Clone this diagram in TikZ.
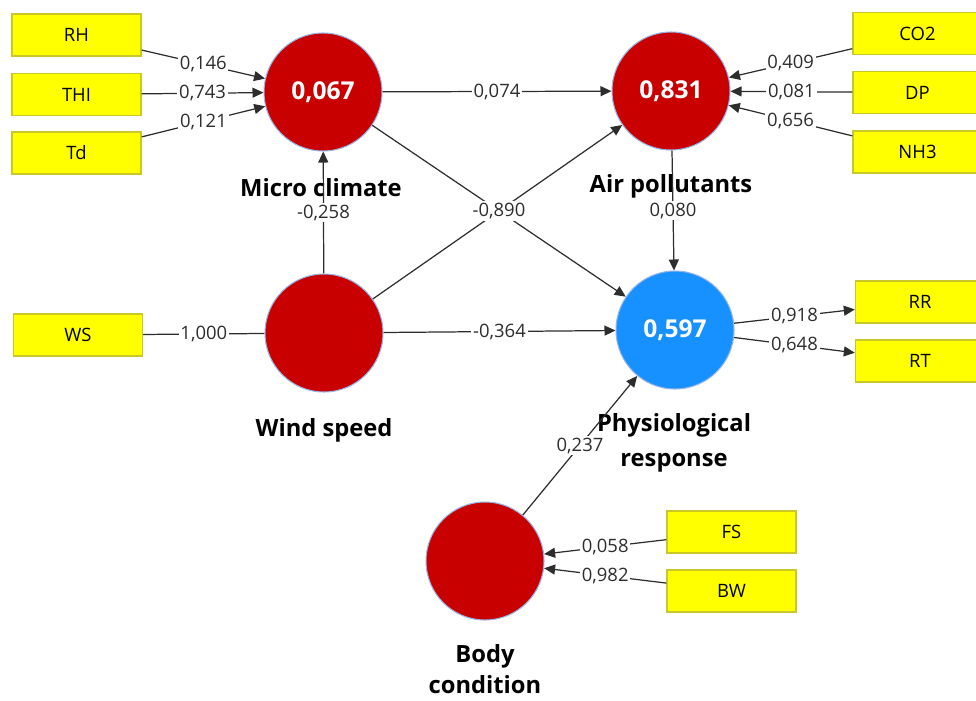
\documentclass[tikz,border=0pt]{standalone}
\usepackage{fontspec}
\setmainfont{Open Sans}
\usetikzlibrary{arrows.meta}

\definecolor{lvred}{RGB}{200,0,0}
\definecolor{lvblue}{RGB}{22,145,255}
\definecolor{mvyellow}{RGB}{255,255,0}
\definecolor{mvedge}{RGB}{200,200,40}
\definecolor{lvedge}{RGB}{150,180,230}
\definecolor{linkgray}{RGB}{45,45,45}

\begin{document}
\begin{tikzpicture}[x=0.02cm, y=-0.02cm, >={Triangle[length=2.2mm, width=2mm]},
  every node/.style={font=\fontsize{10.5}{12}\selectfont},
  latent/.style={circle, draw=lvedge, line width=0.6pt, fill=lvred, minimum size=2.36cm, inner sep=0pt, text=white, font=\fontsize{14}{16}\selectfont\bfseries},
  manifest/.style={draw=mvedge, line width=0.8pt, fill=mvyellow, minimum width=2.58cm, minimum height=0.84cm, inner sep=0pt},
  conname/.style={align=center, font=\fontsize{13.5}{20}\selectfont\bfseries},
  link/.style={draw=linkgray, line width=0.7pt},
  coef/.style={fill=white, inner sep=1pt, midway, text=linkgray}]
  \useasboundingbox (0,0) rectangle (976,700);

  % constructs
  \node[latent] (micro) at (323,92) {0,067};
  \node[latent] (air) at (671,91) {0,831};
  \node[latent] (wind) at (324,333) {};
  \node[latent, fill=lvblue] (physio) at (675,330) {0,597};
  \node[latent] (body) at (485,561) {};

  \node[conname] (microname) at (321,188) {Micro climate};
  \node[conname] (airname) at (671,186) {Air pollutants};
  \node[conname] (windname) at (324,430) {Wind speed};
  \node[conname] (physioname) at (674,443) {Physiological\\response};
  \node[conname, font=\fontsize{13.5}{17.5}\selectfont\bfseries] (bodyname) at (485,669) {Body\\condition};

  % indicators
  \node[manifest] (rh) at (76.5,35) {RH};
  \node[manifest] (thi) at (76.5,94.5) {THI};
  \node[manifest] (td) at (76.5,153) {Td};
  \node[manifest] (ws) at (78,335) {WS};
  \node[manifest] (co2) at (917.5,33.5) {CO2};
  \node[manifest] (dp) at (917.5,92.5) {DP};
  \node[manifest] (nh3) at (917.5,152) {NH3};
  \node[manifest] (rr) at (920,302) {RR};
  \node[manifest] (rt) at (920,361) {RT};
  \node[manifest] (fs) at (731.5,532) {FS};
  \node[manifest] (bw) at (731.5,591) {BW};

  % outer model
  \draw[link, ->] (rh) -- (micro) node[coef] {0,146};
  \draw[link, ->] (thi) -- (micro) node[coef] {0,743};
  \draw[link, ->] (td) -- (micro) node[coef] {0,121};
  \draw[link] (ws) -- (wind) node[coef] {1,000};
  \draw[link, ->] (co2) -- (air) node[coef] {0,409};
  \draw[link, ->] (dp) -- (air) node[coef] {0,081};
  \draw[link, ->] (nh3) -- (air) node[coef] {0,656};
  \draw[link, ->] (physio) -- (rr) node[coef] {0,918};
  \draw[link, ->] (physio) -- (rt) node[coef] {0,648};
  \draw[link, ->] (fs) -- (body) node[coef] {0,058};
  \draw[link, ->] (bw) -- (body) node[coef] {0,982};

  % inner model
  \draw[link, ->] (micro) -- (air) node[coef] {0,074};
  \draw[link, ->] (wind) -- (micro) node[coef] {-0,258};
  \draw[link, ->] (wind) -- (air);
  \draw[link, ->] (micro) -- (physio) node[coef] {-0,890};
  \draw[link, ->] (air) -- (physio) node[coef] {0,080};
  \draw[link, ->] (wind) -- (physio) node[coef] {-0,364};
  \draw[link, ->] (body) -- (physio) node[coef] {0,237};
\end{tikzpicture}
\end{document}
